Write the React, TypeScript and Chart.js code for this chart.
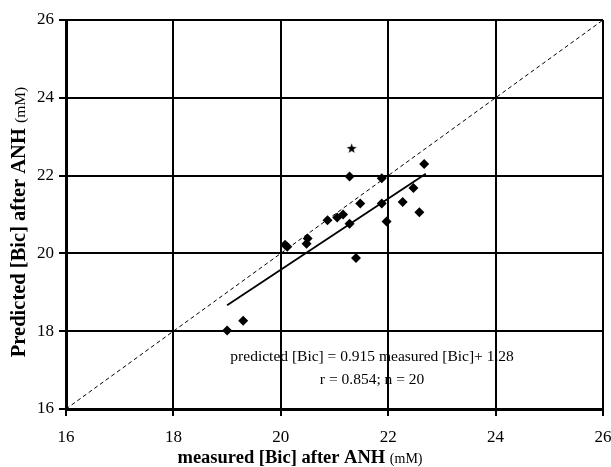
import React, { useEffect, useRef } from "react";
import { Chart, registerables } from "chart.js";

Chart.register(...registerables);

// measured [Bic] after ANH (x) and predicted [Bic] after ANH (y)
const measured = [19.0, 19.3, 20.08, 20.12, 20.48, 20.5, 20.87, 21.05, 21.16, 21.28, 21.28, 21.4, 21.48, 21.88, 21.88, 21.97, 22.27, 22.47, 22.58, 22.67];
const predicted = [18.02, 18.27, 20.22, 20.17, 20.25, 20.38, 20.85, 20.92, 21.0, 20.76, 21.98, 19.88, 21.28, 21.93, 21.28, 20.82, 21.32, 21.68, 21.06, 22.3];
// outlier marked with a star
const starX = [21.32];
const starY = [22.7];
// regression line: predicted = 0.915 * measured + 1.28
const SLOPE = 0.915;
const INTERCEPT = 1.28;
const regX = [19.0, 22.7];
// identity line
const idLine = [16, 26];
const tickValues = [16, 18, 20, 22, 24, 26];
const eqLine1 = "predicted [Bic] = 0.915 measured [Bic]+ 1.28";
const eqLine2 = "r = 0.854; n = 20";
const xTitleMain = "measured [Bic] after ANH ";
const yTitleMain = "Predicted [Bic] after ANH ";
const unitText = "(mM)";

const SERIF = "'Liberation Serif', 'Times New Roman', serif";

function makeStar(): HTMLCanvasElement {
  const c = document.createElement("canvas");
  c.width = 11;
  c.height = 11;
  const g = c.getContext("2d")!;
  g.fillStyle = "#000";
  g.beginPath();
  const cx = 5.5, cy = 5.8, R = 5.2, r = 2.1;
  for (let i = 0; i < 10; i++) {
    const a = -Math.PI / 2 + (i * Math.PI) / 5;
    const rr = i % 2 === 0 ? R : r;
    const px = cx + rr * Math.cos(a);
    const py = cy + rr * Math.sin(a);
    if (i === 0) g.moveTo(px, py);
    else g.lineTo(px, py);
  }
  g.closePath();
  g.fill();
  return c;
}

const textPlugin = {
  id: "customText",
  afterDraw(chart: any) {
    const ctx = chart.ctx as CanvasRenderingContext2D;
    const xs = chart.scales.x;
    const ys = chart.scales.y;
    const area = chart.chartArea;
    ctx.save();
    ctx.fillStyle = "#000";
    // equation annotation
    ctx.font = `15.5px ${SERIF}`;
    ctx.textAlign = "center";
    ctx.textBaseline = "middle";
    const ax = xs.getPixelForValue(21.7);
    ctx.fillText(eqLine1, ax, ys.getPixelForValue(17.34));
    ctx.fillText(eqLine2, ax, ys.getPixelForValue(16.75));

    // x title
    ctx.textAlign = "left";
    ctx.textBaseline = "alphabetic";
    const xBold = `bold 18.5px ${SERIF}`;
    const xUnit = `14px ${SERIF}`;
    ctx.font = xBold;
    const wMain = ctx.measureText(xTitleMain).width;
    ctx.font = xUnit;
    const wUnit = ctx.measureText(unitText).width;
    const cxT = 300;
    const sx = cxT - (wMain + wUnit) / 2;
    const by = 463;
    ctx.font = xBold;
    ctx.fillText(xTitleMain, sx, by);
    ctx.font = xUnit;
    ctx.fillText(unitText, sx + wMain, by);

    // y title (rotated)
    const yBold = `bold 20.5px ${SERIF}`;
    const yUnit = `15.5px ${SERIF}`;
    ctx.save();
    ctx.translate(25, 222);
    ctx.rotate(-Math.PI / 2);
    ctx.font = yBold;
    const wyMain = ctx.measureText(yTitleMain).width;
    ctx.font = yUnit;
    const wyUnit = ctx.measureText(unitText).width;
    const sy = -(wyMain + wyUnit) / 2;
    ctx.font = yBold;
    ctx.fillText(yTitleMain, sy, 0);
    ctx.font = yUnit;
    ctx.fillText(unitText, sy + wyMain, 0);
    ctx.restore();

    ctx.restore();
  },
};

export default function App() {
  const ref = useRef<HTMLCanvasElement | null>(null);

  useEffect(() => {
    if (!ref.current) return;
    const star = makeStar();
    const pts = measured.map((x, i) => ({ x, y: predicted[i] }));
    const starPts = starX.map((x, i) => ({ x, y: starY[i] }));
    const regPts = regX.map((x) => ({ x, y: SLOPE * x + INTERCEPT }));
    const idPts = idLine.map((v) => ({ x: v, y: v }));

    const axisCommon = (isX: boolean) => ({
      type: "linear" as const,
      min: 16,
      max: 26,
      afterBuildTicks: (scale: any) => {
        scale.ticks = tickValues.map((v) => ({ value: v }));
      },
      afterFit: (scale: any) => {
        if (isX) {
          scale.height = 58;
          scale.paddingLeft = 0;
          scale.paddingRight = 0;
        } else {
          scale.width = 66;
          scale.paddingTop = 0;
          scale.paddingBottom = 0;
        }
      },
      grid: {
        color: "#000",
        lineWidth: 2,
        drawTicks: true,
        tickLength: 7,
        tickColor: "#000",
        tickWidth: 2,
      },
      border: { display: true, color: "#000", width: 3 },
      ticks: {
        color: "#000",
        font: { family: SERIF, size: 17 },
        padding: isX ? 11 : 5,
      },
    });

    const chart = new Chart(ref.current, {
      type: "scatter",
      data: {
        datasets: [
          {
            type: "line",
            data: idPts,
            borderColor: "#000",
            borderWidth: 1,
            borderDash: [4, 3],
            pointRadius: 0,
            fill: false,
          } as any,
          {
            type: "line",
            data: regPts,
            borderColor: "#000",
            borderWidth: 1.8,
            pointRadius: 0,
            fill: false,
          } as any,
          {
            data: pts,
            pointStyle: "rectRot",
            pointRadius: 5,
            backgroundColor: "#000",
            borderColor: "#000",
            borderWidth: 0,
          },
          {
            data: starPts,
            pointStyle: star as any,
            pointRadius: 5,
          },
        ],
      },
      options: {
        responsive: false,
        animation: false,
        layout: { padding: { top: 20, right: 8, left: 0, bottom: 0 } },
        plugins: {
          legend: { display: false },
          tooltip: { enabled: false },
        },
        scales: {
          x: axisCommon(true),
          y: axisCommon(false),
        } as any,
      },
      plugins: [textPlugin],
    });
    return () => chart.destroy();
  }, []);

  return (
    <div style={{ position: "absolute", left: 0, top: 0, width: 611, height: 467, background: "#fff" }}>
      <canvas ref={ref} width={611} height={467} style={{ width: 611, height: 467, display: "block" }} />
    </div>
  );
}
